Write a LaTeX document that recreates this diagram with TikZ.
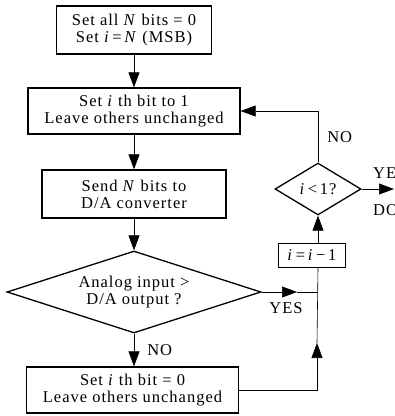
\documentclass[tikz,border=0pt]{standalone}
\usepackage{fontspec}
\setmainfont[LetterSpace=6]{Liberation Serif}
\usetikzlibrary{positioning,shapes.geometric,arrows.meta}

\newcommand{\vi}{\textit{i}}
\newcommand{\vN}{\textit{N}}

\tikzset{
  box/.style={draw, rectangle, line width=1.3pt, align=center, inner sep=0pt},
  decide/.style={draw, diamond, line width=1.3pt, align=center, inner sep=0pt},
  flow/.style={line width=0.6pt, -{Triangle[length=15pt,width=11pt]}},
  lbl/.style={inner sep=0pt},
}

\begin{document}
\begin{tikzpicture}[x=1pt, y=-1pt, font=\fontsize{16.5}{17}\selectfont]
        \useasboundingbox (0,0) rectangle (395,416);
        \clip (0,0) rectangle (395,416);
        % main column
        \node[box, minimum width=155pt, minimum height=48pt] (init) at (134,30) {Set all \vN\ bits = 0\\Set \vi\,=\,\vN\ (MSB)};
        \node[box, minimum width=212pt, minimum height=46pt] (setone) at (134,111) {Set \vi\ th bit to 1\\Leave others unchanged};
        \node[box, minimum width=184pt, minimum height=48pt] (send) at (134,194) {Send \vN\ bits to\\D/A converter};
        \node[decide, aspect=3.1, minimum width=254pt, minimum height=82pt] (cmp) at (134,292) {Analog input >\\D/A output ?};
        \node[box, minimum width=212pt, minimum height=46pt] (setzero) at (132.5,390) {Set \vi\ th bit = 0\\Leave others unchanged};
        % right column
        \node[decide, aspect=1.65, minimum width=86pt, minimum height=52pt] (last) at (318,189) {\vi\,<\,1?};
        \node[box, minimum width=67pt, minimum height=24pt] (dec) at (312,255.5) {\vi\,=\,\vi\,−\,1};
        \coordinate (join) at (cmp.east -| last.south);
        \coordinate (yestip) at (297,292);
        \coordinate (uptip) at (317,343);
        \coordinate (donetip) at (394,189);
        % connectors
        \draw[flow] (init) -- (setone);
        \draw[flow] (setone) -- (send);
        \draw[flow] (send) -- (cmp);
        \draw[flow] (cmp.south) -- (setzero.north -| cmp.south) node[lbl, midway, right=13pt] (no1) {NO};
        \draw[flow] (cmp.east) -- (yestip);
        \draw[line width=0.6pt] (yestip) -- (join);
        \node[lbl] (yes1) at (286,308) {YES};
        \draw[flow] (setzero.east) -| (uptip);
        \draw[line width=0.6pt] (uptip) -- (dec.south -| last.south);
        \draw[flow] (dec.north -| last.south) -- (last.south);
        \draw[flow] (last.north) |- (setone.east) node[lbl, pos=0.25, right=9pt] (no2) {NO};
        \draw[flow] (last.east) -- (donetip);
        \node[lbl, anchor=west] (yes2) at (373,173) {YES};
        \node[lbl, anchor=west] (done) at (373,210) {DONE};
    \end{tikzpicture}
\end{document}
